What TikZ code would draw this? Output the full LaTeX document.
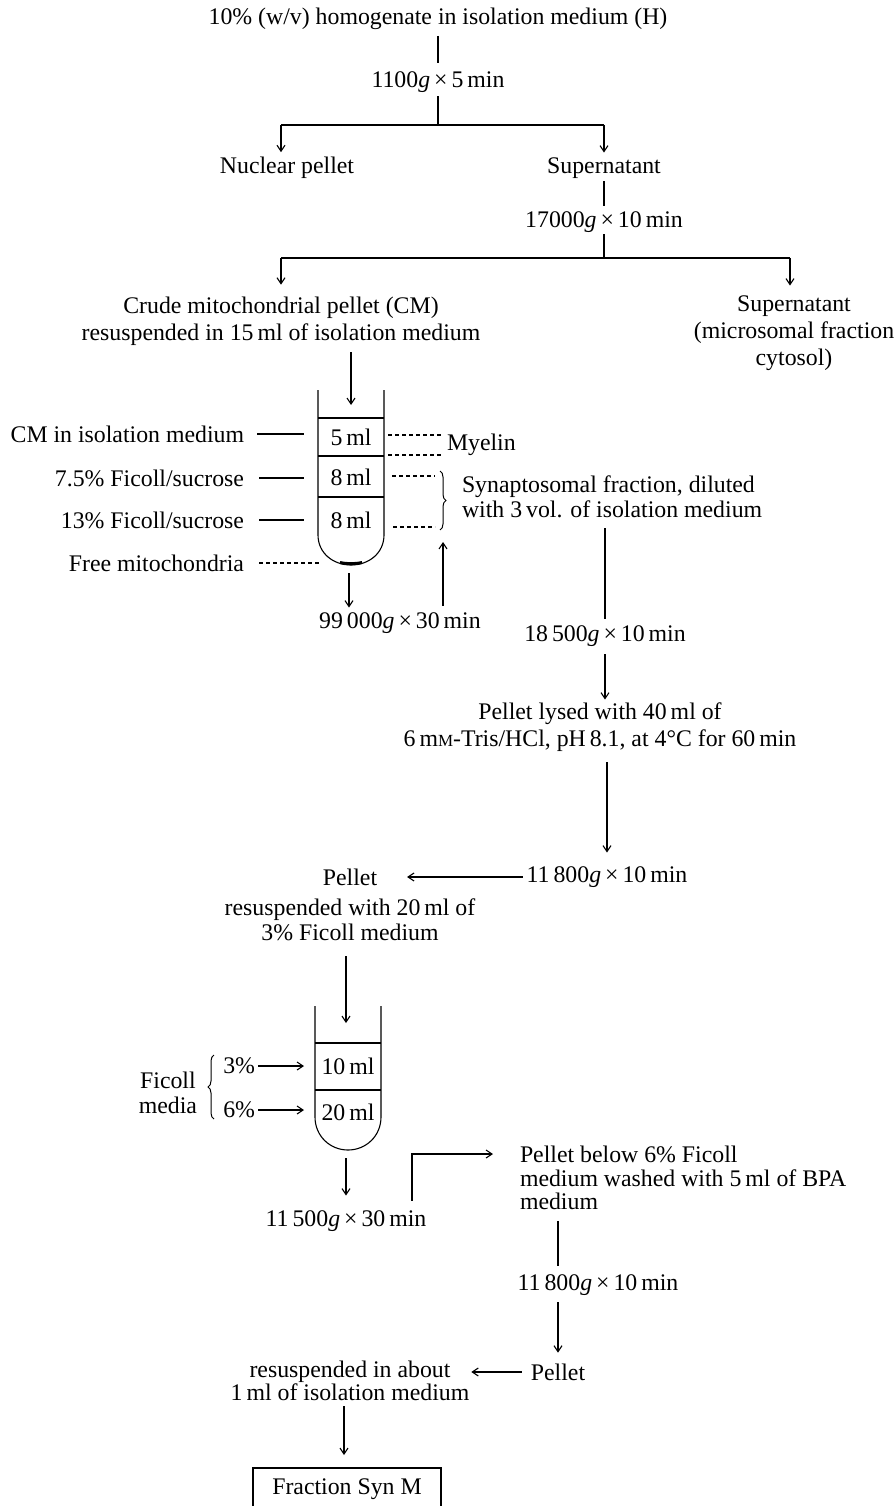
\documentclass[tikz,border=0pt]{standalone}
\usepackage{fontspec}
\setmainfont{Liberation Serif}
\usetikzlibrary{arrows.meta,decorations.pathreplacing,calc}
\newcommand\gv{\textit{g}}
\newcommand\smm{m{\fontsize{17}{17}\selectfont M}}
\begin{document}
\begin{tikzpicture}[x=1pt,y=-1pt,
  txt/.style={font=\fontsize{23.8}{27}\selectfont, inner sep=0pt, outer sep=0pt, align=center},
  tight/.style={font=\fontsize{23.8}{25}\selectfont},
  tighter/.style={font=\fontsize{23.8}{23.5}\selectfont},
  ln/.style={line width=1.1pt},
  arr/.style={line width=1.1pt,-{Straight Barb[length=6pt,width=8pt]}},
  dsh/.style={line width=1.1pt, dash pattern=on 4pt off 3pt},
  brc/.style={line width=1pt, decorate, decoration={brace,amplitude=6pt}},
  boxed/.style={draw, line width=1.1pt, minimum width=188pt, minimum height=42pt}
]
\useasboundingbox (0,0) rectangle (896,1506);
\clip (0,0) rectangle (896,1506);

% ---- top part
\node[txt] (H) at (438,19) {10\% (w/v) homogenate in isolation medium (H)};
\node[txt] (c1) at (438,82) {1100\gv\,×\,5\,min};
\coordinate (j1) at (438,125);
\coordinate (a1) at (281,125);
\coordinate (a2) at (604,125);
\node[txt] (np) at (287,168) {Nuclear pellet};
\node[txt] (s1) at (604,168) {Supernatant};
\node[txt] (c2) at (604,222) {17000\gv\,×\,10\,min};
\coordinate (j2) at (604,258);
\coordinate (b1) at (281,258);
\coordinate (b2) at (790,258);
\node[txt] (cm) at (281,321) {Crude mitochondrial pellet (CM)\\resuspended in 15\,ml of isolation medium};
\node[txt] (s2) at (794,333) {Supernatant\\(microsomal fraction\\cytosol)};

\draw[ln,shorten <=6pt,shorten >=9pt] (H) -- (c1);
\draw[ln,shorten <=4pt] (c1) -- (j1);
\draw[ln] (a1) -- (a2);
\draw[arr,shorten >=5pt] (a1) -- (a1 |- np.north);
\draw[arr,shorten >=5pt] (a2) -- (a2 |- s1.north);
\draw[ln,shorten <=3pt,shorten >=6pt] (s1) -- (c2);
\draw[ln,shorten <=2pt] (c2) -- (j2);
\draw[ln] (b1) -- (b2);
\draw[arr,shorten >=12pt] (b1) -- (b1 |- cm.north);
\draw[arr,shorten >=10pt] (b2) -- (b2 |- s2.north);

% ---- tube 1
\coordinate (t1in) at (351,405);
\draw[arr,shorten <=7pt] (t1in |- cm.south) -- (t1in);
\draw[ln] (318,390) -- (318,535) .. controls (318,553) and (333,565) .. (351,565)
  .. controls (369,565) and (384,553) .. (384,535) -- (384,390);
\draw[ln] (318,418) -- (384,418);
\draw[ln] (318,456) -- (384,456);
\draw[ln] (318,497) -- (384,497);
\draw[line width=3pt] (340,562.5) .. controls (346,564) and (356,564) .. (362,562.5);
\node[txt] (v1) at (351,437) {5\,ml};
\node[txt] (v2) at (351,477) {8\,ml};
\node[txt] (v3) at (351,520) {8\,ml};

\coordinate (tw) at (304,400);
\coordinate (tb) at (320,400);
\node[txt,anchor=east] (l1) at (244,434) {CM in isolation medium};
\node[txt,anchor=east] (l2) at (244,478) {7.5\% Ficoll/sucrose};
\node[txt,anchor=east] (l3) at (244,520) {13\% Ficoll/sucrose};
\node[txt,anchor=east] (l4) at (244,563) {Free mitochondria};
\draw[ln,shorten <=13pt] (l1.east) -- (l1.east -| tw);
\draw[ln,shorten <=15pt] (l2.east) -- (l2.east -| tw);
\draw[ln,shorten <=15pt] (l3.east) -- (l3.east -| tw);
\draw[dsh,shorten <=15pt] (l4.east) -- (l4.east -| tb);

\draw[dsh] (388,435) -- (442,435);
\draw[dsh] (388,455) -- (442,455);
\draw[dsh] (392,476) -- (435,476);
\draw[dsh] (393,527) -- (435,527);
\node[txt,anchor=west] (my) at (447,445) {Myelin};
\draw[brc] (440,471) -- (440,530);
\node[txt,tight,anchor=west,align=left] (syn) at (462,497) {Synaptosomal fraction, diluted\\with 3\,vol. of isolation medium};

\node[txt] (c4) at (400,623) {99\,000\gv\,×\,30\,min};
\coordinate (t1b) at (349,573);
\draw[arr,shorten >=5pt] (t1b) -- (t1b |- c4.north);
\coordinate (u2) at (443,542);
\draw[arr,shorten <=7pt] (u2 |- c4.north) -- (u2);

\node[txt] (c5) at (605,636) {18\,500\gv\,×\,10\,min};
\draw[ln,shorten <=10pt,shorten >=7pt] (syn.south -| c5) -- (c5);
\node[txt] (lys) at (600,727) {Pellet lysed with 40\,ml of\\6\,\smm-Tris/HCl, pH\,8.1, at 4°C for 60\,min};
\draw[arr,shorten <=8pt,shorten >=3pt] (c5) -- (c5 |- lys.north);

\node[txt] (c6) at (607,877) {11\,800\gv\,×\,10\,min};
\draw[arr,shorten <=11pt,shorten >=14pt] (c6 |- lys.south) -- (c6);
\node[txt] (pl1) at (350,877) {Pellet};
\draw[arr,shorten <=4pt,shorten >=30pt] (c6) -- (pl1);
\node[txt,tight] (rs1) at (350,920) {resuspended with 20\,ml of\\3\% Ficoll medium};

% ---- tube 2
\coordinate (t2in) at (346,1023);
\draw[arr,shorten <=15pt] (t2in |- rs1.south) -- (t2in);
\draw[ln] (315,1006) -- (315,1117) .. controls (315,1136) and (330,1150) .. (348,1150)
  .. controls (366,1150) and (381,1136) .. (381,1117) -- (381,1006);
\draw[ln] (315,1043) -- (381,1043);
\draw[ln] (315,1090) -- (381,1090);
\node[txt] (v4) at (348,1066) {10\,ml};
\node[txt] (v5) at (348,1112) {20\,ml};
\coordinate (ta) at (304,1000);
\node[txt,anchor=east] (p3) at (255,1066) {3\%};
\node[txt,anchor=east] (p6) at (255,1110) {6\%};
\draw[arr,shorten <=3pt] (p3.east) -- (p3.east -| ta);
\draw[arr,shorten <=3pt] (p6.east) -- (p6.east -| ta);
\draw[brc] (214,1119) -- (214,1055);
\node[txt,tight,anchor=east] (fm) at (197,1093) {Ficoll\\media};

\node[txt] (c7) at (346,1221) {11\,500\gv\,×\,30\,min};
\coordinate (t2b) at (346,1158);
\draw[arr,shorten >=15pt] (t2b) -- (t2b |- c7.north);
\node[txt,tighter,anchor=west,align=left] (pb) at (520,1178) {Pellet below 6\% Ficoll\\medium washed with 5\,ml of BPA\\medium};
\coordinate (e1) at (412,1154);
\draw[arr,shorten <=10pt,shorten >=27pt] (e1 |- c7.north) -- (e1) -- (e1 -| pb.west);

\coordinate (vx) at (558,1300);
\node[txt] (c8) at (598,1285) {11\,800\gv\,×\,10\,min};
\draw[ln,shorten <=11pt,shorten >=9pt] (vx |- pb.south) -- (vx |- c8.north);
\node[txt] (pl2) at (558,1372) {Pellet};
\draw[arr,shorten <=7pt,shorten >=11pt] (vx |- c8.south) -- (pl2.north);
\node[txt,tighter] (rs2) at (350,1381) {resuspended in about\\1\,ml of isolation medium};
\draw[arr,shorten <=9pt,shorten >=2pt] (pl2.west) -- (pl2.west -| rs2.east);
\node[txt,boxed] (fr) at (347,1489) {Fraction Syn M};
\coordinate (t3) at (344,1400);
\draw[arr,shorten <=5pt,shorten >=13pt] (t3 |- rs2.south) -- (t3 |- fr.north);
\end{tikzpicture}
\end{document}
